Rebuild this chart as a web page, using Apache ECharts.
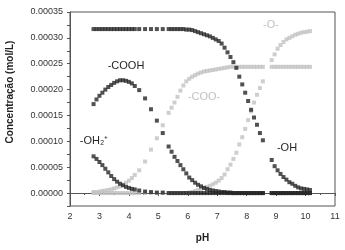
<!DOCTYPE html>
<html>
<head>
<meta charset="utf-8">
<script src="https://cdn.jsdelivr.net/npm/echarts@6/dist/echarts.min.js"></script>
<style>
  html, body { margin: 0; padding: 0; background: #fff; }
  #chart { width: 345px; height: 250px; }
</style>
</head>
<body>
<div id="chart"></div>
<script>
// concentrations, in µmol/L (x 1e-6 mol/L)
var UNIT = 1e-6;

var pH = [2.8, 2.9, 3.0, 3.1, 3.2, 3.3, 3.4, 3.5, 3.6, 3.7, 3.8, 3.9, 4.0, 4.1, 4.2,
  4.35, 4.55, 4.75, 4.95, 5.15,
  5.35, 5.45, 5.55, 5.65, 5.75, 5.85, 5.95, 6.05, 6.15, 6.25, 6.35, 6.45, 6.55, 6.65, 6.75,
  6.85, 6.95, 7.05, 7.15, 7.25, 7.35, 7.45, 7.55, 7.65, 7.75, 7.85, 7.95, 8.05, 8.15, 8.25,
  8.35, 8.45, 8.55,
  8.85, 8.95, 9.05, 9.15, 9.25, 9.35, 9.45, 9.55, 9.65, 9.75, 9.85, 9.95, 10.05, 10.15];

var OH = [317, 317, 317, 317, 317, 317, 317, 317, 317, 317, 317, 317, 317, 317, 317,
  317, 317, 317, 317, 317,
  317, 317, 317, 317, 317, 317, 316, 316, 315, 313, 311, 309, 307, 305, 303,
  300, 297, 294, 289, 281, 272, 263, 253, 242, 225, 210, 194, 178, 161, 146,
  132, 116, 102,
  64, 52, 44, 37, 31, 26, 21, 18, 14, 11, 9, 8, 7, 6];

var O = [0, 0, 0, 0, 0, 0, 0, 0, 0, 0, 0, 0, 0, 0, 0,
  0, 0, 0, 0, 0,
  0, 0, 0, 0, 0, 0, 0, 1, 2, 4, 6, 8, 10, 12, 14,
  17, 20, 24, 29, 36, 46, 55, 66, 78, 94, 108, 124, 141, 158, 175,
  190, 203, 216,
  257, 268, 279, 286, 292, 297, 300, 303, 306, 308, 310, 311, 312, 313];

var COO = [2, 2, 3, 4, 5, 6, 7, 9, 11, 13, 16, 20, 24, 29, 35,
  44, 61, 84, 106, 131,
  155, 165, 175, 186, 198, 208, 216, 221, 225, 228, 231, 233, 235, 236, 237,
  238, 239, 240, 241, 242, 243, 244, 244, 244, 244, 244, 244, 244, 244, 244,
  244, 244, 244,
  244, 244, 244, 244, 244, 244, 244, 244, 244, 244, 244, 244, 244, 244];

var COOH = [172, 181, 188, 194, 200, 205, 209, 213, 216, 218, 218, 217, 215, 212, 207,
  199, 183, 162, 140, 116,
  90, 80, 70, 62, 54, 46, 38, 30, 25, 20, 16, 13, 10, 8, 6,
  5, 4, 3, 2, 2, 1, 1, 0, 0, 0, 0, 0, 0, 0, 0,
  0, 0, 0,
  0, 0, 0, 0, 0, 0, 0, 0, 0, 0, 0, 0, 0, 0];

var OH2 = [71, 66, 60, 54, 47, 40, 33, 27, 22, 18, 15, 12, 10, 8, 7,
  5, 3, 2, 1, 1,
  0, 0, 0, 0, 0, 0, 0, 0, 0, 0, 0, 0, 0, 0, 0,
  0, 0, 0, 0, 0, 0, 0, 0, 0, 0, 0, 0, 0, 0, 0,
  0, 0, 0,
  0, 0, 0, 0, 0, 0, 0, 0, 0, 0, 0, 0, 0, 0];

var DARK = '#262626';
var GRAY = '#c2c2c2';
var FONT = 'Liberation Sans, Arial, sans-serif';

function pts(vals) {
  return pH.map(function (p, i) { return [p, vals[i] * UNIT]; });
}

function scatter(name, vals, color) {
  return {
    name: name,
    type: 'scatter',
    symbol: 'rect',
    symbolSize: 4,
    itemStyle: { color: color },
    silent: true,
    data: pts(vals)
  };
}

var chart = echarts.init(document.getElementById('chart'));
chart.setOption({
  animation: false,
  grid: {
    left: 70, right: 10, top: 12, bottom: 44,
    show: true, borderColor: '#555', borderWidth: 1, backgroundColor: 'transparent'
  },
  xAxis: {
    type: 'value',
    min: 2, max: 11, interval: 1,
    name: 'pH',
    nameLocation: 'middle',
    nameGap: 27,
    nameTextStyle: { fontFamily: FONT, fontSize: 10, fontWeight: 'bold', color: '#222' },
    axisLine: { lineStyle: { color: '#555' } },
    axisTick: { length: 3, lineStyle: { color: '#555' } },
    minorTick: { show: true, splitNumber: 2, length: 2, lineStyle: { color: '#555' } },
    axisLabel: { fontFamily: FONT, fontSize: 9, color: '#333', margin: 6 },
    splitLine: { show: false }
  },
  yAxis: {
    type: 'value',
    min: -0.000025, max: 0.00035, interval: 0.000025,
    axisLine: { show: true, lineStyle: { color: '#555' } },
    axisTick: { show: true, length: 3, lineStyle: { color: '#555' } },
    axisLabel: {
      fontFamily: FONT, fontSize: 9, color: '#333', margin: 7,
      formatter: function (v) {
        var k = Math.round(v / 0.000025);
        return (k >= 0 && k % 2 === 0) ? v.toFixed(5) : '';
      }
    },
    splitLine: { show: false }
  },
  series: [
    scatter('-COO-', COO, GRAY),
    scatter('-O-', O, GRAY),
    scatter('-OH', OH, DARK),
    scatter('-COOH', COOH, DARK),
    scatter('-OH2+', OH2, DARK)
  ],
  graphic: [
    { type: 'text', x: 10, y: 92, rotation: Math.PI / 2,
      style: { text: 'Concentração (mol/L)', fontFamily: FONT, fontSize: 10, fontWeight: 'bold',
        fill: '#222', textAlign: 'center', textVerticalAlign: 'middle' } },
    { type: 'text', x: 126, y: 66,
      style: { text: '-COOH', fontFamily: FONT, fontSize: 11, fill: DARK, textAlign: 'center', textVerticalAlign: 'middle' } },
    { type: 'text', x: 94, y: 141,
      style: { text: '-OH₂⁺', fontFamily: FONT, fontSize: 11, fill: DARK, textAlign: 'center', textVerticalAlign: 'middle' } },
    { type: 'text', x: 204, y: 97,
      style: { text: '-COO-', fontFamily: FONT, fontSize: 11, fill: GRAY, textAlign: 'center', textVerticalAlign: 'middle' } },
    { type: 'text', x: 271, y: 25,
      style: { text: '-O-', fontFamily: FONT, fontSize: 11, fill: GRAY, textAlign: 'center', textVerticalAlign: 'middle' } },
    { type: 'text', x: 287, y: 148,
      style: { text: '-OH', fontFamily: FONT, fontSize: 11, fill: DARK, textAlign: 'center', textVerticalAlign: 'middle' } }
  ]
});
</script>
</body>
</html>
